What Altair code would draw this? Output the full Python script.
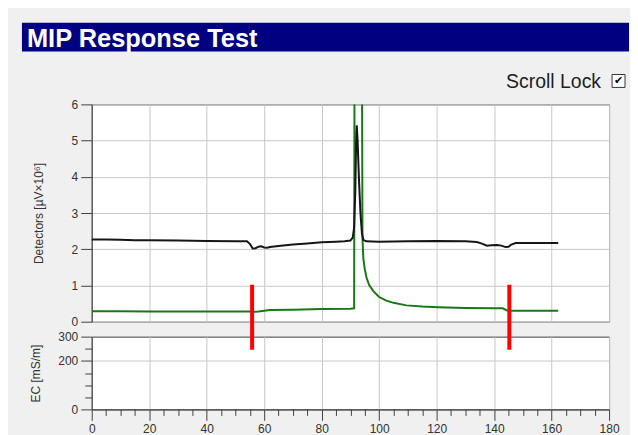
import altair as alt
import pandas as pd

title_text = "MIP Response Test"
lock_text = "Scroll Lock"
check_text = "✔"
det_title = "Detectors [µV×10⁶]"
ec_title = "EC [mS/m]"

black_t = [0, 5, 10, 15, 20, 30, 40, 50, 54, 55, 56, 57, 58, 59, 60, 61, 62, 65, 70, 75,
           80, 85, 88, 90, 90.8, 91.3, 91.7, 92.0, 92.2, 92.5, 93.0, 93.5, 94.0, 94.5, 95.5,
           100, 110, 120, 130, 134, 136, 137.5, 139, 141, 142.5, 144, 145, 146, 147.5, 150,
           155, 162.3]
black_v = [2.27, 2.27, 2.26, 2.25, 2.25, 2.24, 2.23, 2.22, 2.22, 2.15, 2.02, 2.03, 2.07, 2.08,
           2.05, 2.04, 2.06, 2.09, 2.13, 2.16, 2.19, 2.21, 2.22, 2.24, 2.32, 2.6, 3.6, 5.0,
           5.42, 5.0, 3.9, 3.0, 2.45, 2.26, 2.22, 2.21, 2.22, 2.23, 2.22, 2.20, 2.15, 2.10,
           2.11, 2.12, 2.10, 2.06, 2.07, 2.13, 2.17, 2.17, 2.17, 2.17]

green_t = [0, 10, 20, 30, 40, 50, 55, 56, 58, 60, 62, 70, 80, 90, 91.3, 91.45, 92.7, 94.0,
           94.2, 94.5, 95.0, 95.6, 96.5, 97.9, 100, 102.5, 105, 109.5, 115, 120.5, 130, 140,
           143, 144.5, 146, 150, 162.3]
green_v = [0.29, 0.29, 0.28, 0.28, 0.28, 0.28, 0.28, 0.27, 0.28, 0.30, 0.32, 0.33, 0.35, 0.36,
           0.37, 8.0, 9.0, 8.0, 2.3, 1.75, 1.45, 1.22, 1.02, 0.85, 0.68, 0.58, 0.52, 0.45,
           0.42, 0.40, 0.38, 0.37, 0.37, 0.31, 0.30, 0.30, 0.30]

marker_t = [55.8, 145.3]
marker_lo = [246, 246]   # lower end, EC units
marker_hi = [514, 514]   # upper end, EC units (reaches up into detector panel)

x_ticks = list(range(0, 181, 5))
x_grid = list(range(0, 181, 20))
det_ticks = [i * 0.5 for i in range(13)]
ec_ticks = list(range(0, 301, 50))

FONT = "Liberation Sans"

black_df = pd.DataFrame({"t": black_t, "v": black_v})
green_df = pd.DataFrame({"t": green_t, "v": green_v})
marker_df = pd.DataFrame({"t": marker_t, "lo": marker_lo, "hi": marker_hi})


def cond(test, a, b):
    return {"condition": {"test": test, "value": a}, "value": b}


# ---------- header ----------
hdr_df = pd.DataFrame({"label": [title_text]})
lock_df = pd.DataFrame({"label": [lock_text]})
bar = alt.Chart(hdr_df).mark_rect(color="#000080").encode(
    x=alt.value(-70), x2=alt.value(539), y=alt.value(0), y2=alt.value(29))
bar_txt = alt.Chart(hdr_df).mark_text(
    align="left", baseline="alphabetic", font=FONT, fontSize=25.5, fontWeight="bold",
    color="white").encode(x=alt.value(-65), y=alt.value(24), text="label:N")
lock = alt.Chart(lock_df).mark_text(
    align="right", baseline="alphabetic", font=FONT, fontSize=19.5, color="#1e1e1e").encode(
    x=alt.value(511), y=alt.value(66), text="label:N")
box = alt.Chart(lock_df).mark_rect(fill="white", stroke="#333333", strokeWidth=1).encode(
    x=alt.value(522), x2=alt.value(535), y=alt.value(52), y2=alt.value(65))
check = alt.Chart(lock_df).mark_text(
    text=check_text, fontSize=11, color="black", align="center", baseline="middle",
    font="DejaVu Sans").encode(x=alt.value(528.5), y=alt.value(58.5))
header = alt.layer(bar, bar_txt, lock, box, check).properties(
    width=519, height=67,
    view=alt.ViewBackground(fill="transparent", stroke="transparent"))

# ---------- detectors panel ----------
xs = alt.Scale(domain=[0, 180], nice=False)
x_top = alt.X("t:Q", scale=xs, axis=alt.Axis(
    values=x_grid, labels=False, ticks=False, domain=False, grid=True, title=""))
y_top = alt.Y("v:Q", scale=alt.Scale(domain=[0, 6], nice=False), axis=alt.Axis(
    values=det_ticks, format="d",
    labelExpr="datum.value % 1 === 0 ? datum.label : ''",
    tickSize=cond("datum.value % 1 === 0", 11, 7),
    gridOpacity=cond("datum.value % 1 === 0", 1, 0),
    labelPadding=3, title=det_title, titleX=-46))

green = alt.Chart(green_df).mark_line(color="#187818", strokeWidth=2, clip=True).encode(
    x=x_top, y=y_top)
black = alt.Chart(black_df).mark_line(color="#161616", strokeWidth=2).encode(
    x=x_top, y=y_top)
top = alt.layer(green, black).properties(width=519, height=218)

# ---------- EC panel ----------
x_bot = alt.X("t:Q", scale=xs, axis=alt.Axis(
    values=x_ticks, format="d",
    labelExpr="datum.value % 20 === 0 ? datum.label : ''",
    tickSize=cond("datum.value % 20 === 0", 11, 6),
    gridOpacity=cond("datum.value % 20 === 0", 1, 0),
    labelFlush=False, labelOverlap=False, labelPadding=3, title=""))
ec_major = "datum.value === 0 || datum.value === 200 || datum.value === 300"
y_bot = alt.Y("lo:Q", scale=alt.Scale(domain=[0, 300], nice=False), axis=alt.Axis(
    values=ec_ticks, format="d",
    labelExpr="(" + ec_major + ") ? datum.label : ''",
    tickSize=cond(ec_major, 11, 7),
    gridOpacity=cond("datum.value === 200", 1, 0),
    labelPadding=3, title=ec_title, titleX=-49))
markers = alt.Chart(marker_df).mark_rule(color="#ff0000", strokeWidth=4).encode(
    x=x_bot, y=y_bot, y2=alt.Y2("hi:Q"))
bottom = markers.properties(width=519, height=73)

chart = alt.vconcat(header, top, bottom, spacing=15, bounds="flush").properties(
    padding={"left": 13, "top": 13, "right": 0, "bottom": 1},
    background="#f0f0f0",
).configure_view(
    fill="white", stroke="#404040", strokeWidth=1
).configure_axis(
    labelFont=FONT, labelFontSize=12, labelColor="#333333",
    titleFont=FONT, titleFontSize=12, titleFontWeight="normal", titleColor="#333333",
    tickColor="#404040", domainColor="#404040", gridColor="#c8c8c8", gridWidth=1,
)

chart.save("out.html", embed_options={"renderer": "svg", "actions": False})
